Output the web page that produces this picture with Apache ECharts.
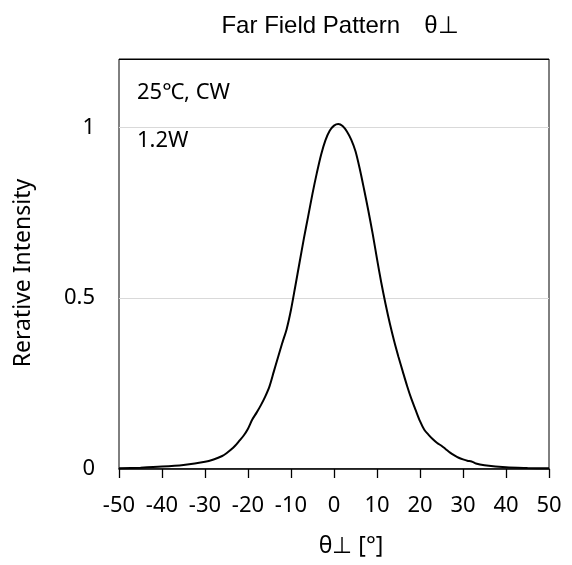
<!DOCTYPE html>
<html>
<head>
<meta charset="utf-8">
<script src="https://cdn.jsdelivr.net/npm/echarts@6/dist/echarts.min.js"></script>
<style>
  html, body { margin: 0; padding: 0; background: #fff; }
  #ffp { width: 572px; height: 565px; }
</style>
</head>
<body>
<div id="ffp"></div>
<script>
// angle [deg]
var angles = [-50, -45, -40, -35, -30, -28, -26, -25, -24, -23, -22, -21, -20, -19, -18, -17, -16, -15, -14, -13, -12, -11, -10, -9, -8, -7, -6, -5, -4, -3, -2, -1, 0, 1, 2, 3, 4, 5, 6, 7, 8, 9, 10, 11, 12, 13, 14, 15, 16, 17, 18, 19, 20, 21, 22, 23, 24, 25, 26, 27, 28, 29, 30, 31, 32, 33, 35, 40, 45, 50];
// relative intensity
var intensity = [0.002, 0.004, 0.007, 0.012, 0.021, 0.028, 0.038, 0.046, 0.056, 0.068, 0.083, 0.098, 0.118, 0.145, 0.165, 0.187, 0.212, 0.242, 0.285, 0.328, 0.37, 0.41, 0.466, 0.535, 0.605, 0.675, 0.74, 0.806, 0.866, 0.92, 0.962, 0.99, 1.005, 1.01, 1.004, 0.988, 0.964, 0.93, 0.878, 0.818, 0.755, 0.688, 0.615, 0.545, 0.482, 0.425, 0.374, 0.328, 0.285, 0.243, 0.205, 0.172, 0.14, 0.115, 0.1, 0.087, 0.076, 0.068, 0.058, 0.048, 0.04, 0.033, 0.028, 0.024, 0.022, 0.016, 0.011, 0.005, 0.003, 0.002];
var xTicks = [-50, -40, -30, -20, -10, 0, 10, 20, 30, 40, 50];
var yTicks = [0, 0.5, 1];

var pts = angles.map(function (a, i) { return [a, intensity[i]]; });

var txtFont = '"Noto Sans", "Open Sans", sans-serif';

var ffpoption = {
    animation: false,
    backgroundColor: '#fff',
    title: {
        text: 'Far Field Pattern\u3000θ⊥',
        left: 335,
        textAlign: 'center',
        top: 9,
        textStyle: {
            fontFamily: '"Liberation Sans", Arial, sans-serif',
            fontWeight: 'normal',
            fontSize: 24,
            color: '#000'
        }
    },
    grid: {
        left: 119,
        right: 23,
        top: 59,
        bottom: 96,
        show: true,
        borderColor: '#000',
        borderWidth: 1
    },
    xAxis: {
        type: 'value',
        min: -50,
        max: 50,
        interval: 10,
        name: 'θ⊥ [°]',
        nameLocation: 'middle',
        nameGap: 66,
        nameTextStyle: {
            fontFamily: txtFont,
            fontSize: 23,
            color: '#000',
            padding: [0, 0, 0, 34]
        },
        axisLine: { lineStyle: { color: '#000', width: 1.5 } },
        axisTick: { show: true, length: 9, lineStyle: { color: '#000', width: 1.3 } },
        axisLabel: {
            margin: 26,
            fontFamily: txtFont,
            fontSize: 22,
            color: '#000',
            formatter: function (v) { return xTicks.indexOf(v) >= 0 ? String(v) : ''; }
        },
        splitLine: { show: false }
    },
    yAxis: {
        type: 'value',
        min: 0,
        max: 1.2,
        interval: 0.5,
        name: 'Rerative Intensity',
        nameLocation: 'middle',
        nameGap: 84,
        nameTextStyle: {
            fontFamily: txtFont,
            fontSize: 23,
            color: '#000',
            padding: [0, 18, 0, 0]
        },
        axisLine: { show: false },
        axisTick: { show: false },
        axisLabel: {
            margin: 24,
            fontFamily: txtFont,
            fontSize: 22,
            color: '#000',
            formatter: function (v) { return yTicks.indexOf(v) >= 0 ? String(v) : ''; }
        },
        splitLine: {
            show: true,
            lineStyle: { color: ['#d9d9d9', '#d9d9d9', '#d9d9d9', '#000'], width: 1 }
        }
    },
    graphic: [
        {
            type: 'text',
            left: 137,
            top: 82,
            style: { text: '25℃, CW', font: '22px ' + txtFont, fill: '#000' }
        },
        {
            type: 'text',
            left: 137,
            top: 130,
            style: { text: '1.2W', font: '22px ' + txtFont, fill: '#000' }
        }
    ],
    series: [
        {
            type: 'line',
            data: pts,
            smooth: 0.3,
            showSymbol: false,
            lineStyle: { color: '#000', width: 2 },
            itemStyle: { color: '#000' }
        }
    ]
};

var ffpdom = document.getElementById('ffp');
var ffpChart = echarts.init(ffpdom);
ffpoption && ffpChart.setOption(ffpoption);
</script>
</body>
</html>
